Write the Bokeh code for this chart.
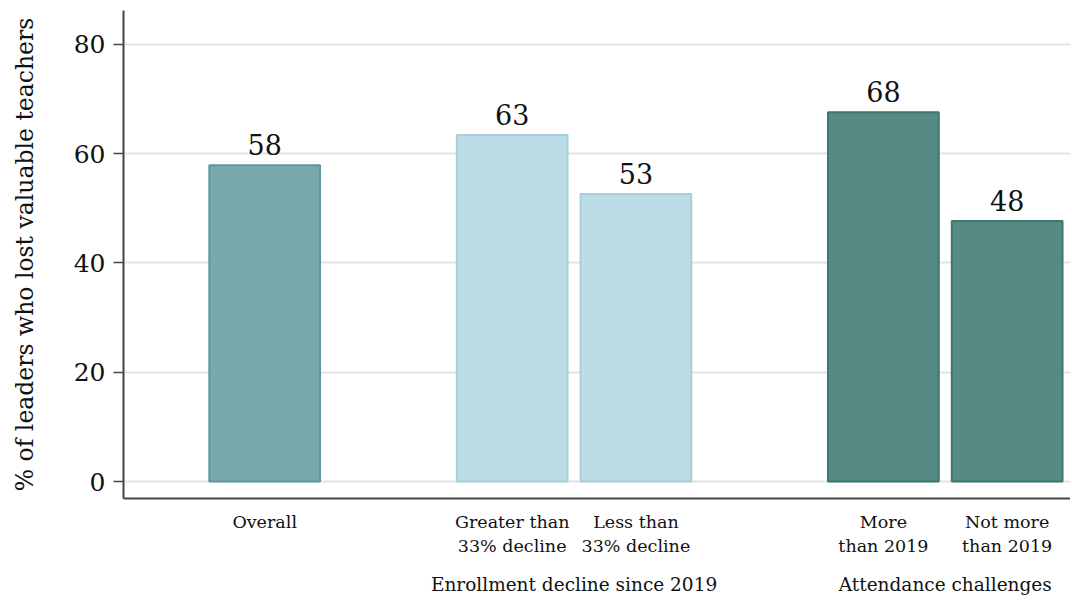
from bokeh.plotting import figure
from bokeh.models import Range1d, FixedTicker, LinearAxis, ColumnDataSource
from bokeh.embed import file_html
from bokeh.resources import INLINE
from bokeh.core.properties import value

# ---- data ----
categories = ["Overall", "Greater than\n33% decline", "Less than\n33% decline",
              "More\nthan 2019", "Not more\nthan 2019"]
positions = [0, 2, 3, 5, 6]
values = [57.9, 63.4, 52.6, 67.6, 47.7]
labels = ["58", "63", "53", "68", "48"]
groups = ["Enrollment decline since 2019", "Attendance challenges"]
group_positions = [2.5, 5.5]
fills = ["#78a9af", "#bcdde6", "#bcdde6", "#568a84", "#568a84"]
lines = ["#5f979d", "#a8d0da", "#a8d0da", "#3f7770", "#3f7770"]
yticks = [0, 20, 40, 60, 80]

FONT = "DejaVu Serif"

p = figure(width=1070, height=598, output_backend="svg", toolbar_location=None,
           x_range=Range1d(-1.141, 6.512), y_range=Range1d(-3.1, 86.2),
           min_border_left=123, min_border_top=10, min_border_right=0, min_border_bottom=100)
p.outline_line_color = None
p.background_fill_color = "white"

src = ColumnDataSource(dict(x=positions, top=values, fill=fills, line=lines,
                            lab=labels, ly=[v + 3.7 for v in values]))
p.vbar(x="x", top="top", bottom=0, width=0.895, fill_color="fill", line_color="line",
       line_width=2, source=src)
p.text(x="x", y="ly", text="lab", source=src, text_align="center", text_baseline="middle",
       text_font=value(FONT), text_font_size="27px", text_color="#111111")

# y axis
p.yaxis.ticker = FixedTicker(ticks=yticks)
p.yaxis.axis_label = "% of leaders who lost valuable teachers"
p.yaxis.axis_label_text_font = FONT
p.yaxis.axis_label_text_font_style = "normal"
p.yaxis.axis_label_text_font_size = "23.5px"
p.yaxis.axis_label_text_color = "#111111"
p.yaxis.axis_label_standoff = 32
p.yaxis.major_label_text_font = FONT
p.yaxis.major_label_text_font_size = "25px"
p.yaxis.major_label_text_color = "#111111"
p.yaxis.major_tick_out = 10
p.yaxis.major_tick_in = 0
p.yaxis.minor_tick_line_color = None
p.yaxis.axis_line_color = "#444444"
p.yaxis.axis_line_width = 2
p.yaxis.major_tick_line_color = "#444444"
p.yaxis.major_tick_line_width = 1.5
p.yaxis.major_label_standoff = 8

# grid
p.xgrid.grid_line_color = None
p.ygrid.ticker = FixedTicker(ticks=yticks)
p.ygrid.grid_line_color = "#e3e3e3"
p.ygrid.grid_line_width = 2

# x axis (categories)
xa = p.xaxis[0]
xa.ticker = FixedTicker(ticks=positions)
xa.major_label_overrides = {pos: c for pos, c in zip(positions, categories)}
xa.major_label_text_font = FONT
xa.major_label_text_font_size = "17.5px"
xa.major_label_text_color = "#111111"
xa.major_tick_line_color = None
xa.minor_tick_line_color = None
xa.axis_line_color = "#444444"
xa.axis_line_width = 2
xa.major_label_standoff = 7

# group axis
ga = LinearAxis(ticker=FixedTicker(ticks=group_positions),
                major_label_overrides={pos: g for pos, g in zip(group_positions, groups)})
ga.major_label_text_font = FONT
ga.major_label_text_font_size = "18.5px"
ga.major_label_text_color = "#111111"
ga.major_tick_line_color = None
ga.minor_tick_line_color = None
ga.axis_line_color = None
ga.major_label_standoff = 9
p.add_layout(ga, "below")

open("out.html", "w").write(file_html(p, INLINE))
